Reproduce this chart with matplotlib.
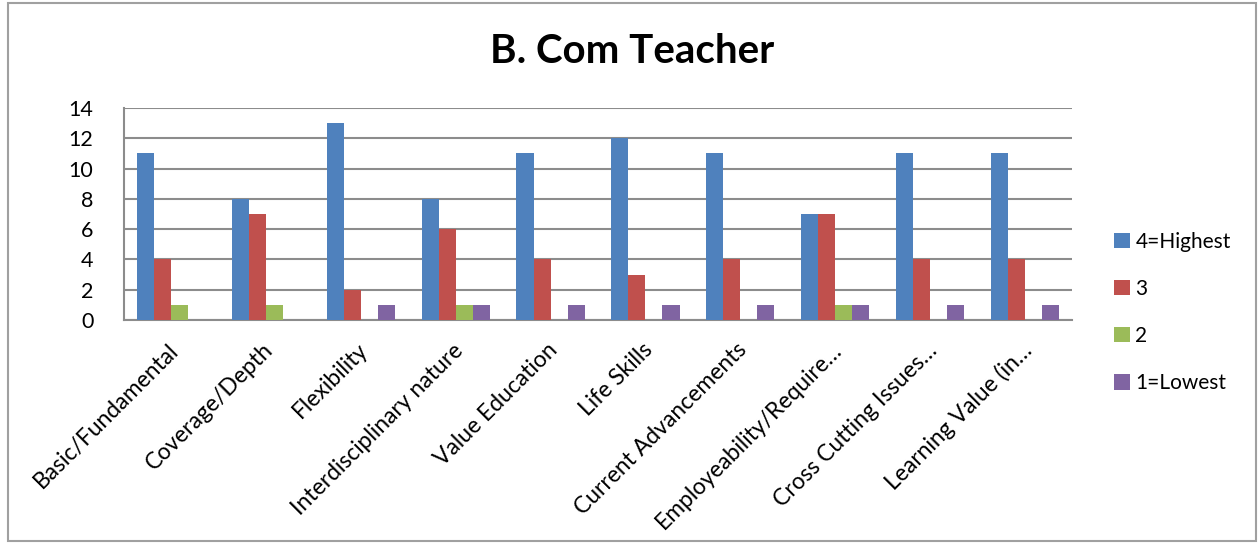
import numpy as np
import matplotlib
matplotlib.use('Agg')
import matplotlib.pyplot as plt
from matplotlib.patches import Rectangle

plt.rcParams['font.family'] = ['Lato', 'DejaVu Sans']

# data
categories = ['Basic/Fundamental', 'Coverage/Depth', 'Flexibility',
              'Interdisciplinary nature', 'Value Education', 'Life Skills',
              'Current Advancements', 'Employeability/Require…',
              'Cross Cutting Issues…', 'Learning Value (in…']
highest = [11, 8, 13, 8, 11, 12, 11, 7, 11, 11]
three = [4, 7, 2, 6, 4, 3, 4, 7, 4, 4]
two = [1, 1, 0, 1, 0, 0, 0, 1, 0, 0]
lowest = [0, 0, 1, 1, 1, 1, 1, 1, 1, 1]
series_names = ['4=Highest', '3', '2', '1=Lowest']
colors = ['#4F81BD', '#C0504D', '#9BBB59', '#8064A2']

fig = plt.figure(figsize=(12.59, 5.44), dpi=100)
ax = fig.add_axes([0.0985, 0.4118, 0.7530, 0.3897])

x = np.arange(len(categories))
w = 0.18
for i, (vals, name) in enumerate(zip([highest, three, two, lowest], series_names)):
    ax.bar(x + (i - 1.5) * w, vals, w, color=colors[i], label=name, zorder=3)

ax.set_xlim(-0.5, len(categories) - 0.5)
ax.set_ylim(0, 14)
ax.set_yticks(range(0, 15, 2))
ax.yaxis.grid(True, color='#8C8C8C', linewidth=1.5, zorder=0)
ax.set_axisbelow(True)
for s in ['top', 'right']:
    ax.spines[s].set_visible(False)
for s in ['left', 'bottom']:
    ax.spines[s].set_color('#8C8C8C')
    ax.spines[s].set_linewidth(1.5)
ax.tick_params(axis='y', length=0, labelsize=15.5, pad=22)
ax.set_xticks(x - 0.04)
ax.set_xticklabels(categories, rotation=45, ha='right', va='top',
                   rotation_mode='anchor')
ax.tick_params(axis='x', length=0, labelsize=16.5, pad=14)

fig.text(0.502, 0.905, 'B. Com Teacher', ha='center', va='center',
         fontsize=29, fontweight='bold')

ax.legend(loc='center left', bbox_to_anchor=(1.025, 0.035), frameon=False,
          fontsize=15, handlelength=0.75, handleheight=0.75,
          handletextpad=0.25, labelspacing=1.3)

fig.patches.append(Rectangle((8 / 1259, 3 / 544), 1248 / 1259, 538 / 544,
                             transform=fig.transFigure, fill=False,
                             edgecolor='#A0A0A0', linewidth=1.5))

plt.savefig('out.png', dpi=100)
plt.close()
